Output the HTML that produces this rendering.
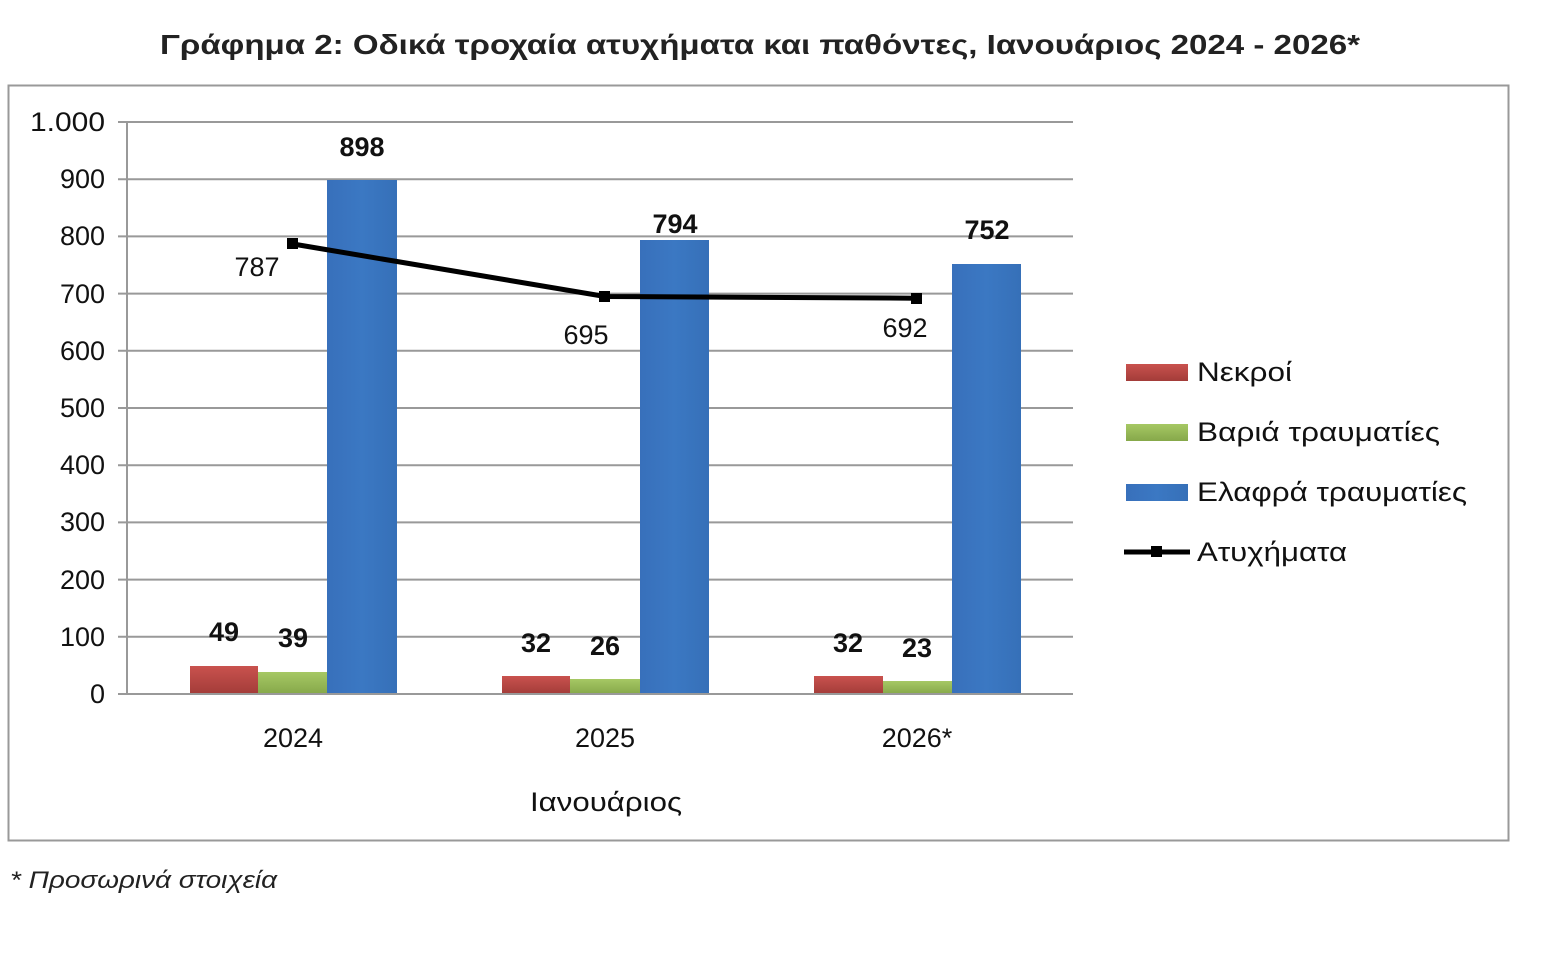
<!DOCTYPE html>
<html><head><meta charset="utf-8"><style>
body{margin:0;background:#fff;width:1546px;height:952px;overflow:hidden;font-family:"Liberation Sans","DejaVu Sans",sans-serif}
</style></head><body>
<svg width="1546" height="952" xmlns="http://www.w3.org/2000/svg" font-family="Liberation Sans, DejaVu Sans, sans-serif">
<defs>
<linearGradient id="r" x1="0" x2="0" y1="0" y2="1"><stop offset="0" stop-color="#c9524e"/><stop offset="1" stop-color="#a33c39"/></linearGradient>
<linearGradient id="g" x1="0" x2="0" y1="0" y2="1"><stop offset="0" stop-color="#a6c864"/><stop offset="1" stop-color="#86a84a"/></linearGradient>
<linearGradient id="b" x1="0" x2="1" y1="0" y2="0"><stop offset="0" stop-color="#3870bb"/><stop offset="0.5" stop-color="#3b78c3"/><stop offset="1" stop-color="#3670b8"/></linearGradient>
</defs>
<text x="160" y="54" font-size="28" font-weight="bold" fill="#222" textLength="1200" lengthAdjust="spacingAndGlyphs">Γράφημα 2: Οδικά τροχαία ατυχήματα και παθόντες, Ιανουάριος 2024 - 2026*</text>
<rect x="8.5" y="85.5" width="1500" height="755" fill="none" stroke="#999" stroke-width="2"/>
<g stroke="#999" stroke-width="2">
<line x1="118" x2="1073" y1="122" y2="122"/><line x1="118" x2="1073" y1="179.2" y2="179.2"/><line x1="118" x2="1073" y1="236.4" y2="236.4"/><line x1="118" x2="1073" y1="293.6" y2="293.6"/><line x1="118" x2="1073" y1="350.8" y2="350.8"/><line x1="118" x2="1073" y1="408" y2="408"/><line x1="118" x2="1073" y1="465.2" y2="465.2"/><line x1="118" x2="1073" y1="522.4" y2="522.4"/><line x1="118" x2="1073" y1="579.6" y2="579.6"/><line x1="118" x2="1073" y1="636.8" y2="636.8"/><line x1="118" x2="1073" y1="694" y2="694"/>
<line x1="127" x2="127" y1="122" y2="694"/>
</g>
<g font-size="27" fill="#111" text-anchor="end">
<text x="105" y="131" textLength="75" lengthAdjust="spacingAndGlyphs">1.000</text><text x="105" y="188">900</text><text x="105" y="245">800</text><text x="105" y="303">700</text><text x="105" y="360">600</text><text x="105" y="417">500</text><text x="105" y="474">400</text><text x="105" y="531">300</text><text x="105" y="589">200</text><text x="105" y="646">100</text><text x="105" y="703">0</text>
</g>
<rect x="190" y="666" width="68" height="28" fill="url(#r)"/>
<rect x="258" y="672" width="69" height="22" fill="url(#g)"/>
<rect x="327" y="180" width="70" height="514" fill="url(#b)"/>
<rect x="502" y="676" width="68" height="18" fill="url(#r)"/>
<rect x="570" y="679" width="70" height="15" fill="url(#g)"/>
<rect x="640" y="240" width="69" height="454" fill="url(#b)"/>
<rect x="814" y="676" width="69" height="18" fill="url(#r)"/>
<rect x="883" y="681" width="69" height="13" fill="url(#g)"/>
<rect x="952" y="264" width="69" height="430" fill="url(#b)"/>
<line x1="127" x2="1073" y1="694" y2="694" stroke="#999" stroke-width="2"/>
<g font-size="27" font-weight="bold" fill="#111" text-anchor="middle">
<text x="224" y="641">49</text><text x="293" y="647">39</text><text x="362" y="156">898</text>
<text x="536" y="652">32</text><text x="605" y="655">26</text><text x="675" y="233">794</text>
<text x="848" y="652">32</text><text x="917" y="657">23</text><text x="987" y="239">752</text>
</g>
<polyline points="293,244 605,296.5 917,298.2" fill="none" stroke="#000" stroke-width="5"/>
<rect x="287" y="238" width="11" height="11" fill="#000"/><rect x="599" y="291" width="11" height="11" fill="#000"/><rect x="911" y="293" width="11" height="11" fill="#000"/>
<g font-size="27" fill="#111" text-anchor="middle">
<text x="257" y="276">787</text><text x="586" y="344">695</text><text x="905" y="337">692</text>
<text x="293" y="747">2024</text><text x="605" y="747">2025</text><text x="917" y="747">2026*</text>
<text x="606" y="811" textLength="152" lengthAdjust="spacingAndGlyphs">Ιανουάριος</text>
</g>
<rect x="1126" y="364" width="62" height="17" fill="url(#r)"/>
<rect x="1126" y="424" width="62" height="17" fill="url(#g)"/>
<rect x="1126" y="484" width="62" height="17" fill="url(#b)"/>
<line x1="1124" x2="1190" y1="552" y2="552" stroke="#000" stroke-width="5"/>
<rect x="1151" y="546" width="11" height="11" fill="#000"/>
<g font-size="27" fill="#111">
<text x="1197" y="381" textLength="95" lengthAdjust="spacingAndGlyphs">Νεκροί</text><text x="1197" y="441" textLength="243" lengthAdjust="spacingAndGlyphs">Βαριά τραυματίες</text><text x="1197" y="501" textLength="270" lengthAdjust="spacingAndGlyphs">Ελαφρά τραυματίες</text><text x="1197" y="561" textLength="150" lengthAdjust="spacingAndGlyphs">Ατυχήματα</text>
</g>
<text x="10" y="888" font-size="24" font-style="italic" fill="#222" textLength="267" lengthAdjust="spacingAndGlyphs">* Προσωρινά στοιχεία</text>
</svg>
</body></html>
